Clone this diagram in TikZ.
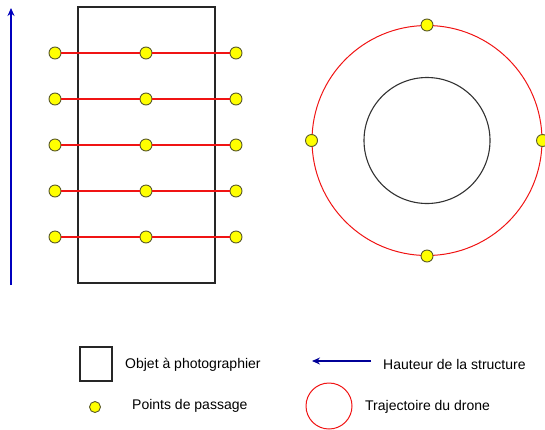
\documentclass[tikz,border=0pt]{standalone}
\usepackage{fontspec}
\setmainfont{Liberation Sans}
\usetikzlibrary{arrows.meta}
\definecolor{ptfill}{RGB}{255,255,0}
\definecolor{ptline}{RGB}{90,90,40}
\definecolor{pathred}{RGB}{240,20,20}
\definecolor{heightblue}{RGB}{0,0,190}
\begin{document}
\begin{tikzpicture}[x=1pt,y=-1pt,
  waypoint/.style={circle,draw=ptline,fill=ptfill,line width=0.9pt,minimum size=12pt,inner sep=0pt},
  objbox/.style={draw=black!85,line width=1.1pt,inner sep=0pt},
  levelline/.style={draw=pathred,line width=1.1pt},
  routecircle/.style={circle,draw=pathred,line width=1pt,inner sep=0pt},
  heightarrow/.style={draw=heightblue,line width=1.2pt,-{Stealth[length=8pt,width=7pt]}},
  legendtext/.style={anchor=west,inner sep=0pt,font=\fontsize{14}{16}\selectfont}]
\useasboundingbox (0,0) rectangle (545,429);

% object seen from the side
\node[objbox,minimum width=137pt,minimum height=276pt] (obj) at (146.5,145) {};

% height arrow
\coordinate (hbot) at (11,285);
\coordinate (htop) at (11,8);
\draw[heightarrow] (hbot) -- (htop);

% flight levels: waypoints first, then the red segments joining them
\foreach \i/\y in {1/53,2/99,3/145,4/191,5/237}{
  \node[waypoint] (l\i a) at (55,\y) {};
  \node[waypoint] (l\i b) at (146,\y) {};
  \node[waypoint] (l\i c) at (236,\y) {};
}
\foreach \i in {1,...,5}{
  \draw[levelline] (l\i a.east) -- (l\i b.west);
  \draw[levelline] (l\i b.east) -- (l\i c.west);
}

% object seen from above, with the circular route
\node[circle,draw=black!80,line width=1.1pt,minimum size=126pt,inner sep=0pt] (top) at (427,140.5) {};
\node[routecircle,minimum size=230pt] (traj) at (427,140.5) {};
\node[waypoint] (cn) at (traj.north) {};
\node[waypoint] (cs) at (traj.south) {};
\node[waypoint] (cw) at (traj.west) {};
\node[waypoint] (ce) at (traj.east) {};

% legend
\node[objbox,minimum width=32pt,minimum height=34pt] (legobj) at (96,364) {};
\node[legendtext] (legobjtxt) at (125,365) {Objet à photographier};

\coordinate (legarrs) at (371,361);
\coordinate (legarre) at (312,361);
\draw[heightarrow,draw=heightblue!80!black] (legarrs) -- (legarre);
\node[legendtext] (legarrtxt) at (383,364) {Hauteur de la structure};

\node[waypoint,minimum size=11pt] (legpt) at (95,407) {};
\node[legendtext] (legpttxt) at (132,406) {Points de passage};

\node[routecircle,minimum size=46pt] (legtraj) at (329,406) {};
\node[legendtext] (legtrajtxt) at (365,407) {Trajectoire du drone};
\end{tikzpicture}
\end{document}
